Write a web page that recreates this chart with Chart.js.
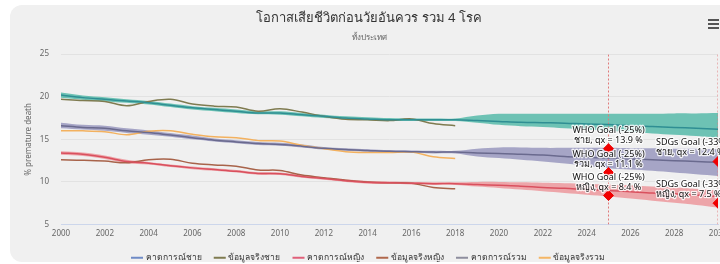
<!DOCTYPE html>
<html>
<head>
<meta charset="utf-8">
<script src="https://cdn.jsdelivr.net/npm/chart.js@4.4.1/dist/chart.umd.min.js"></script>
<style>
  html, body { margin: 0; padding: 0; background: #fff; width: 720px; height: 264px; overflow: hidden; }
  .card { position: absolute; left: 10px; top: 5px; width: 730px; height: 257px; background: #f0f0f0; border-radius: 12px; }
  #chart { position: absolute; left: 0; top: 0; }
  .menu { position: absolute; left: 698px; top: 14px; width: 11px; }
  .menu span { display: block; height: 2px; background: #555; margin-bottom: 2px; }
</style>
</head>
<body>
<div class="card">
  <canvas id="chart" width="730" height="267"></canvas>
  <div class="menu"><span></span><span></span><span></span></div>
</div>
<script>
const years = [2000,2001,2002,2003,2004,2005,2006,2007,2008,2009,2010,2011,2012,2013,2014,2015,2016,2017,2018,
               2019,2020,2021,2022,2023,2024,2025,2026,2027,2028,2029,2030];
const actualYears = years.slice(0, 19);

// forecasts (line + band)
const maleForecast = [20.2,19.9,19.7,19.5,19.3,19.0,18.7,18.5,18.3,18.1,18.1,17.9,17.7,17.5,17.4,17.3,17.3,17.3,17.3,
                      17.2,17.1,17.0,16.95,16.9,16.8,16.75,16.6,16.5,16.4,16.3,16.2];
const maleUpper = [20.5,20.15,19.95,19.7,19.5,19.2,18.9,18.7,18.5,18.3,18.3,18.1,17.9,17.7,17.6,17.5,17.45,17.45,17.45,
                   17.8,18.0,18.0,18.0,18.0,18.0,18.0,18.0,18.0,18.05,18.05,18.1];
const maleLower = [19.9,19.65,19.45,19.3,19.1,18.8,18.5,18.3,18.1,17.95,17.9,17.7,17.5,17.35,17.25,17.15,17.15,17.15,17.15,
                   16.95,16.7,16.55,16.45,16.3,16.15,16.0,15.85,15.7,15.55,15.4,15.2];

const totalForecast = [16.6,16.4,16.3,16.0,15.8,15.5,15.2,14.9,14.7,14.5,14.4,14.2,13.95,13.8,13.7,13.6,13.55,13.5,13.5,
                       13.4,13.35,13.25,13.15,13.0,12.9,12.8,12.7,12.6,12.5,12.4,12.3];
const totalUpper = [16.95,16.7,16.6,16.3,16.05,15.75,15.45,15.1,14.9,14.7,14.6,14.4,14.1,13.95,13.85,13.75,13.7,13.65,13.65,
                    13.9,14.05,14.05,14.0,14.0,14.0,14.0,13.95,13.95,13.9,13.9,13.85];
const totalLower = [16.3,16.15,16.0,15.75,15.55,15.3,15.0,14.75,14.55,14.35,14.25,14.05,13.8,13.65,13.55,13.45,13.4,13.35,13.35,
                    13.0,12.8,12.6,12.4,12.15,11.9,11.6,11.45,11.3,11.1,10.9,10.7];

const femaleForecast = [13.4,13.25,12.9,12.4,12.2,11.9,11.65,11.45,11.25,11.0,10.95,10.65,10.4,10.15,9.95,9.9,9.85,9.8,9.8,
                        9.7,9.6,9.5,9.35,9.25,9.1,9.0,8.85,8.7,8.6,8.45,8.3];
const femaleUpper = [13.6,13.45,13.1,12.6,12.35,12.05,11.8,11.6,11.4,11.15,11.1,10.8,10.55,10.3,10.1,10.05,10.0,9.95,9.95,
                     10.0,10.0,9.95,9.9,9.85,9.8,9.7,9.6,9.45,9.35,9.2,9.0];
const femaleLower = [13.2,13.05,12.7,12.2,12.05,11.75,11.5,11.3,11.1,10.85,10.8,10.5,10.25,10.0,9.8,9.75,9.7,9.65,9.65,
                     9.45,9.3,9.1,8.9,8.7,8.5,8.3,8.05,7.8,7.55,7.3,7.0];

// actual data 2000-2018
const maleActual = [19.7,19.55,19.45,18.95,19.45,19.7,19.15,18.9,18.8,18.3,18.6,18.2,17.7,17.35,17.3,17.2,17.4,16.85,16.6];
const femaleActual = [12.6,12.55,12.45,12.25,12.6,12.65,12.2,12.0,11.85,11.4,11.35,10.8,10.5,10.2,10.0,9.9,9.85,9.35,9.2];
const totalActual = [16.0,16.0,15.9,15.55,15.95,16.0,15.6,15.3,15.2,14.85,14.8,14.3,13.9,13.55,13.45,13.45,13.5,12.95,12.75];

// goals
const goalYears = [2025, 2025, 2025, 2030, 2030];
const goalValues = [13.9, 11.1, 8.4, 12.4, 7.5];
const goalNames = ["WHO Goal (-25%)", "WHO Goal (-25%)", "WHO Goal (-25%)", "SDGs Goal (-33%)", "SDGs Goal (-33%)"];
const goalGroups = ["ชาย", "รวม", "หญิง", "ชาย", "หญิง"];
const plotLineYears = [2025, 2030];

const seriesNames = ["คาดการณ์ชาย", "ข้อมูลจริงชาย", "คาดการณ์หญิง", "ข้อมูลจริงหญิง", "คาดการณ์รวม", "ข้อมูลจริงรวม"];
const legendColors = ["#6f8bc6", "#7f7b50", "#e0607a", "#b0684c", "#8e8e9e", "#f5b665"];

const FONT = "'Noto Sans', 'Open Sans', sans-serif";
const pts = (xs, ys) => xs.map((x, i) => ({ x: x, y: ys[i] }));

const lineDs = (label, data, color) => ({
    label: label, data: data, borderColor: color, backgroundColor: color,
    borderWidth: 1.5, pointRadius: 0, tension: 0.35, fill: false, order: 5
});
const bandDs = (data, color, fill) => ({
    label: "", data: data, borderWidth: 0, borderColor: "rgba(0,0,0,0)", backgroundColor: color,
    pointRadius: 0, tension: 0.35, fill: fill, order: 10
});

const datasets = [
    lineDs(seriesNames[0], pts(years, maleForecast), "#2f8e93"),
    lineDs(seriesNames[1], pts(actualYears, maleActual), "#7f7b50"),
    lineDs(seriesNames[2], pts(years, femaleForecast), "#d9505e"),
    lineDs(seriesNames[3], pts(actualYears, femaleActual), "#a8634a"),
    lineDs(seriesNames[4], pts(years, totalForecast), "#6a6a8e"),
    lineDs(seriesNames[5], pts(actualYears, totalActual), "#f3b15f"),
    bandDs(pts(years, maleUpper), "rgba(76,182,165,0.8)", "+1"),
    bandDs(pts(years, maleLower), "rgba(76,182,165,0.8)", false),
    bandDs(pts(years, totalUpper), "rgba(148,146,188,0.8)", "+1"),
    bandDs(pts(years, totalLower), "rgba(148,146,188,0.8)", false),
    bandDs(pts(years, femaleUpper), "rgba(236,140,146,0.75)", "+1"),
    bandDs(pts(years, femaleLower), "rgba(236,140,146,0.75)", false),
];
plotLineYears.forEach(y => {
    datasets.push({
        label: "", data: [{ x: y, y: 5 }, { x: y, y: 25 }], borderColor: "#e07a7a",
        borderWidth: 1, borderDash: [2, 2], pointRadius: 0, fill: false, order: 8
    });
});
datasets.push({
    label: "", type: "scatter", data: pts(goalYears, goalValues), pointStyle: "rectRot",
    pointRadius: 5, backgroundColor: "#f00000", borderColor: "#f00000", showLine: false, order: 0
});

const goalLabels = {
    id: "goalLabels",
    afterDatasetsDraw(chart) {
        const ctx = chart.ctx, xs = chart.scales.x, ys = chart.scales.y;
        ctx.save();
        ctx.font = "9px " + FONT;
        ctx.textBaseline = "alphabetic";
        ctx.lineJoin = "round";
        goalYears.forEach((yr, i) => {
            const px = xs.getPixelForValue(yr), py = ys.getPixelForValue(goalValues[i]);
            const lines = [goalNames[i], goalGroups[i] + ", qx = " + goalValues[i] + " %"];
            let cx = px;
            ctx.textAlign = "center";
            if (yr === 2030) { ctx.textAlign = "left"; cx = px - 62; }
            lines.forEach((t, k) => {
                const ty = py - 6 - (1 - k) * 10;
                ctx.lineWidth = 2.5;
                ctx.strokeStyle = "rgba(255,255,255,0.85)";
                ctx.strokeText(t, cx, ty);
                ctx.fillStyle = "#111";
                ctx.fillText(t, cx, ty);
            });
        });
        ctx.restore();
    }
};

new Chart(document.getElementById("chart"), {
    type: "line",
    data: { datasets: datasets },
    plugins: [goalLabels],
    options: {
        responsive: false,
        animation: false,
        layout: { padding: { left: 10, right: 22, top: 0, bottom: 0 } },
        plugins: {
            title: {
                display: true, text: "โอกาสเสียชีวิตก่อนวัยอันควร รวม 4 โรค",
                color: "#333", font: { family: FONT, size: 13, weight: "normal" },
                padding: { top: 5, bottom: 7 }
            },
            subtitle: {
                display: true, text: "ทั้งประเทศ",
                color: "#666", font: { family: FONT, size: 8 },
                padding: { top: 0, bottom: 12 }
            },
            legend: {
                position: "bottom",
                labels: {
                    usePointStyle: true, pointStyle: "line", boxWidth: 14, padding: 14,
                    color: "#333", font: { family: FONT, size: 8.5 },
                    filter: item => item.datasetIndex < 6,
                    generateLabels(chart) {
                        return Chart.defaults.plugins.legend.labels.generateLabels(chart).map(l => {
                            if (l.datasetIndex < 6) {
                                l.strokeStyle = legendColors[l.datasetIndex];
                                l.fillStyle = legendColors[l.datasetIndex];
                                l.lineWidth = 2;
                            }
                            return l;
                        });
                    }
                }
            },
            tooltip: { enabled: false }
        },
        scales: {
            x: {
                type: "linear", min: 2000, max: 2030,
                afterFit(scale) { scale.height = 15; },
                grid: { display: false, tickLength: 3 },
                border: { color: "#ccd6eb" },
                ticks: { stepSize: 2, padding: 1, color: "#666", font: { family: FONT, size: 8 }, callback: v => String(v), maxRotation: 0 }
            },
            y: {
                min: 5, max: 25,
                afterFit(scale) { scale.width = 41; },
                grid: { color: "#e2e2e2", drawTicks: false },
                border: { display: false },
                ticks: { stepSize: 5, color: "#666", padding: 12, font: { family: FONT, size: 8 } },
                title: { display: true, text: "% premature death", color: "#666", font: { family: FONT, size: 8 } }
            }
        }
    }
});
</script>
</body>
</html>
